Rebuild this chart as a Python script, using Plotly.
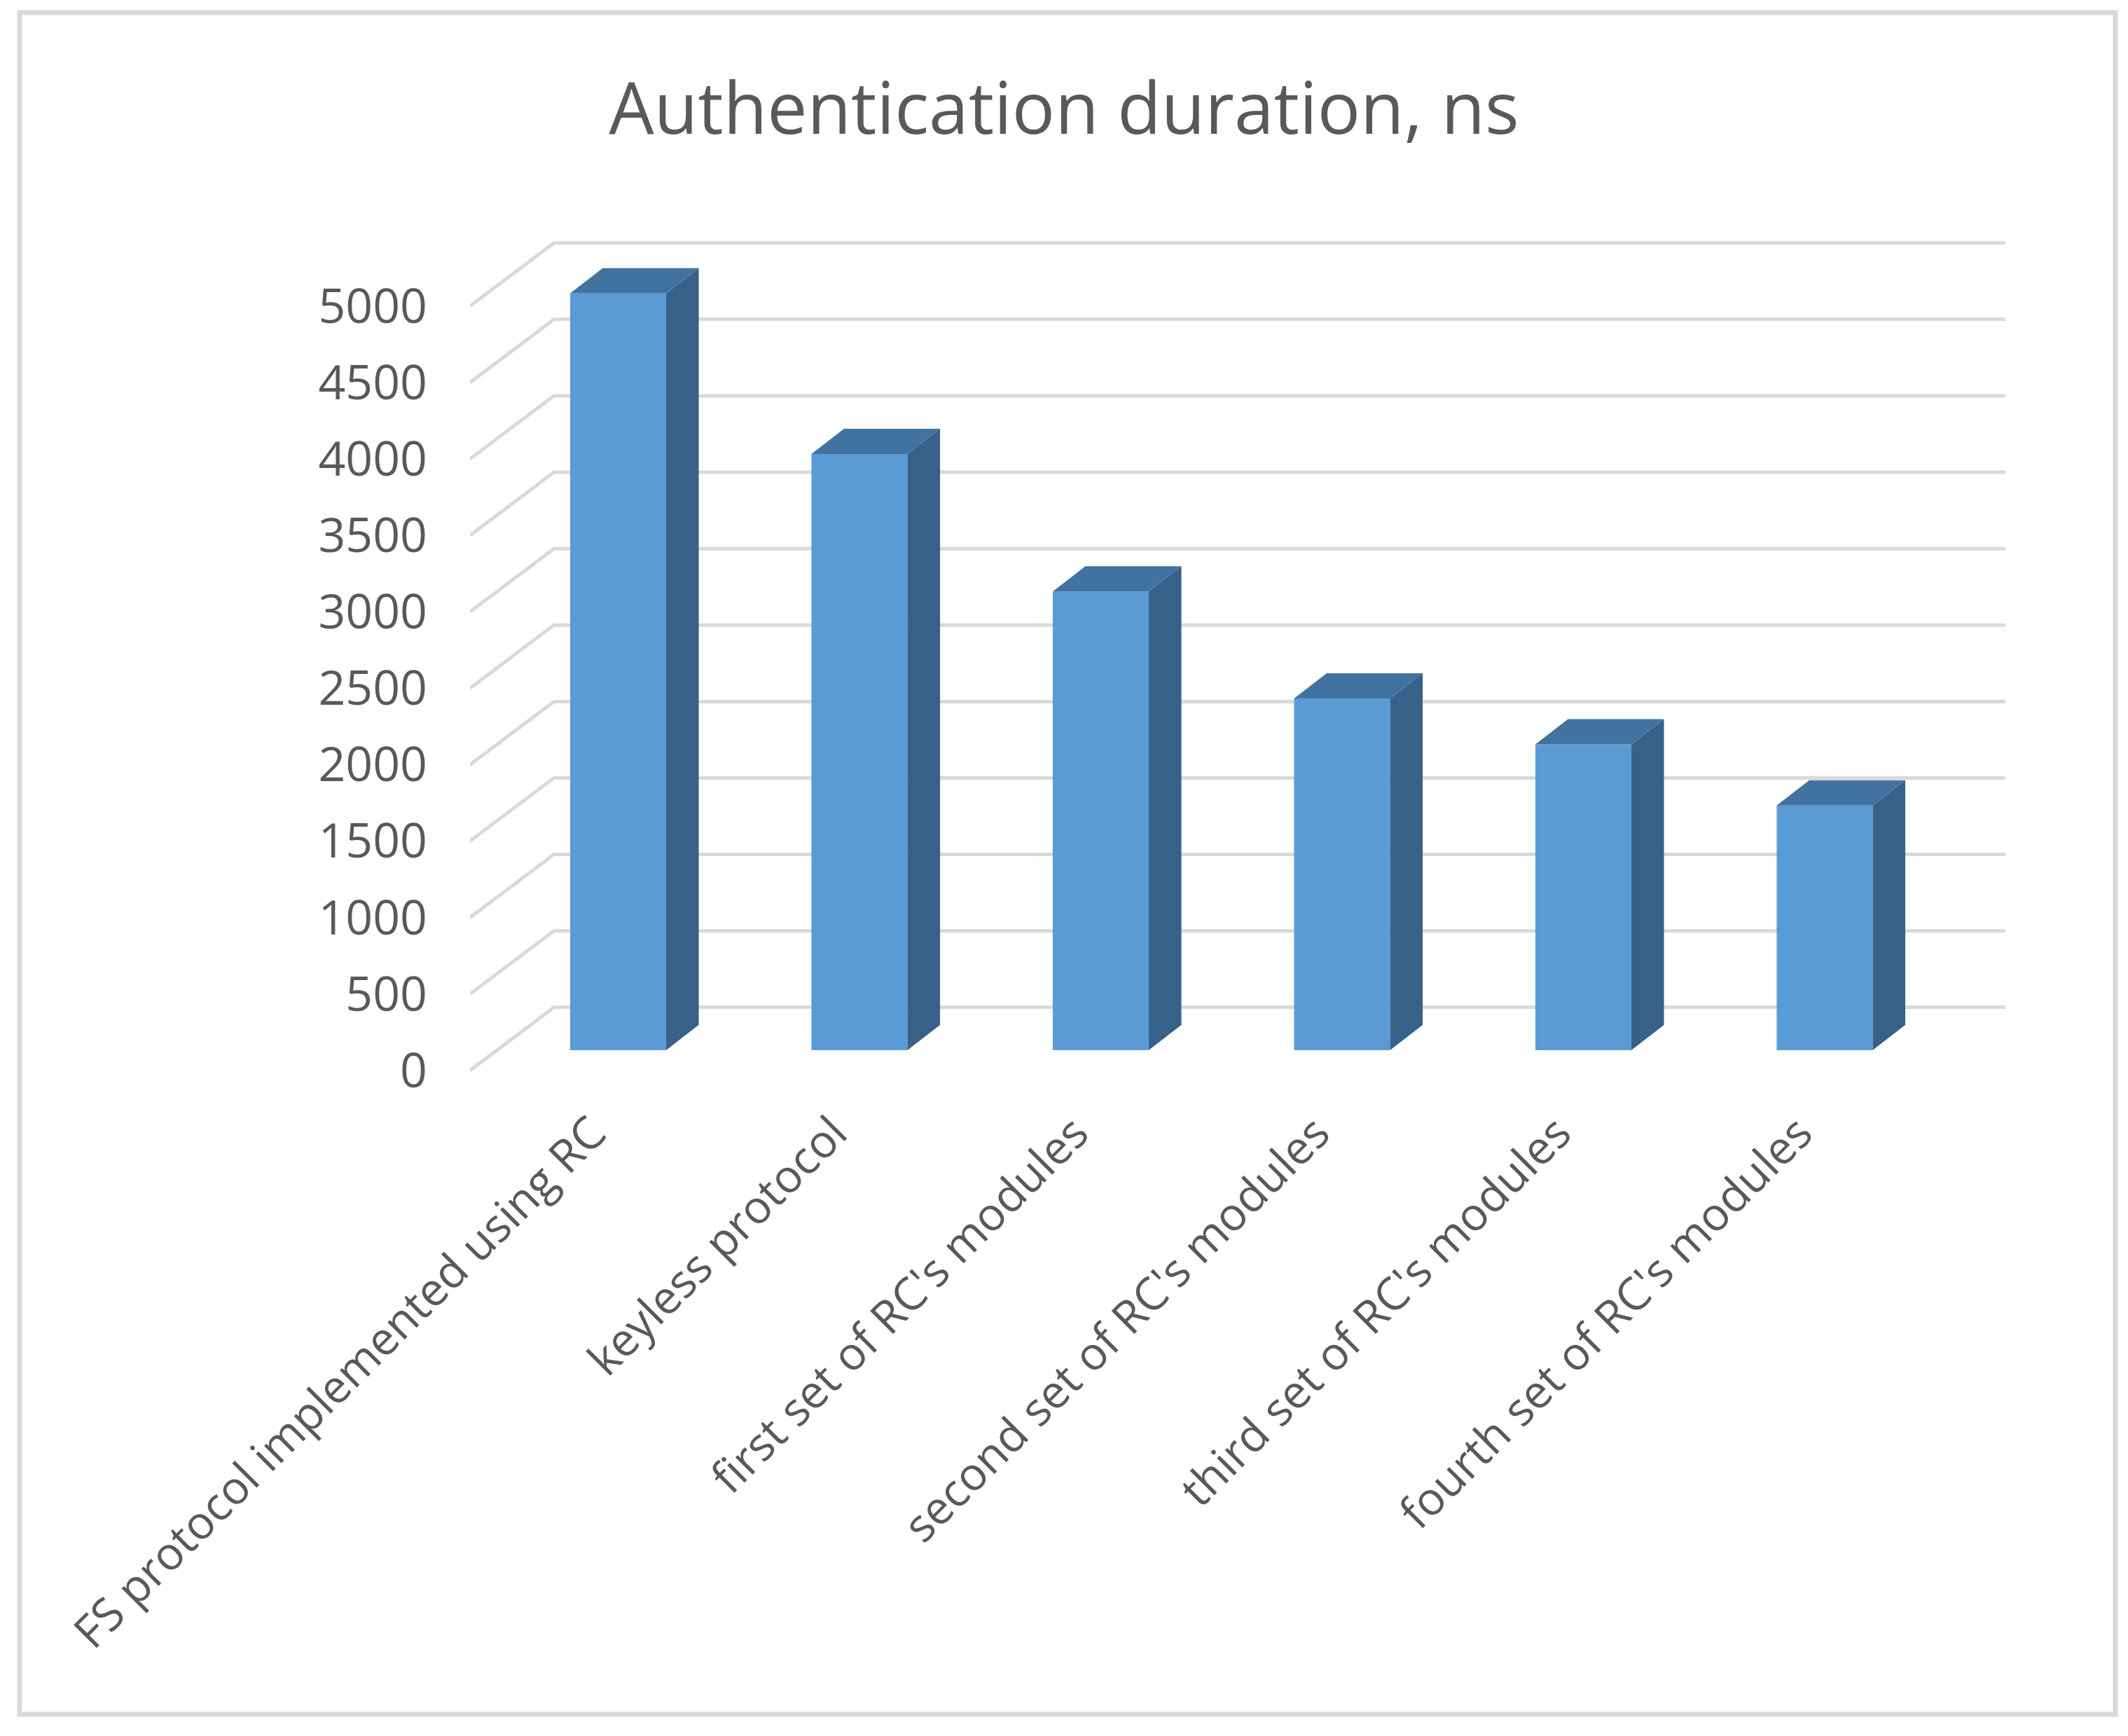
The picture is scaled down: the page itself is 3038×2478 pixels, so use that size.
import plotly.graph_objects as go

W, H = 3038, 2478

categories = [
    "FS protocol implemented using RC",
    "keyless protocol",
    "first set of RC's modules",
    "second set of RC's modules",
    "third set of RC's modules",
    "fourth set of RC's modules",
]
durations = [4950, 3900, 3000, 2300, 2000, 1600]
y_ticks = [0, 500, 1000, 1500, 2000, 2500, 3000, 3500, 4000, 4500, 5000]

GREY_TEXT = "#595959"
GREY_LINE = "#d9d9d9"
FRONT, SIDE, TOP = "#5b9bd5", "#38618a", "#4273a0"

# fake 3d: depth of the bars and of the floor, in axis units
BAR_W = 0.398
BAR_DX, BAR_DY = 0.135, 165
FLOOR_FRONT = -133   # where the tick labels sit
FLOOR_BACK = 280     # where the back wall grid sits
X_FRONT, X_BACK, X_END = -0.614, -0.266, 5.749
LABEL_SHIFT = -0.107 # labels end left of the bar centre
Y_RANGE = [-280, 5311]

fig = go.Figure()

# grid: short diagonal on the side wall, then across the back wall
for v in y_ticks:
    fig.add_trace(go.Scatter(
        x=[X_FRONT, X_BACK, X_END],
        y=[v + FLOOR_FRONT, v + FLOOR_BACK, v + FLOOR_BACK],
        mode="lines",
        line=dict(color=GREY_LINE, width=5),
        hoverinfo="skip",
        cliponaxis=False,
    ))

# bars go on an overlaid y axis so the grid stays behind them
fig.add_trace(go.Bar(
    x=list(range(len(categories))),
    y=durations,
    width=BAR_W,
    yaxis="y2",
    marker=dict(color=FRONT, line=dict(width=0)),
))

# side and top faces of each bar
side_x, side_y, top_x, top_y = [], [], [], []
for i, v in enumerate(durations):
    l, r = i - BAR_W / 2, i + BAR_W / 2
    side_x += [r, r + BAR_DX, r + BAR_DX, r, r, None]
    side_y += [0, BAR_DY, v + BAR_DY, v, 0, None]
    top_x += [l, l + BAR_DX, r + BAR_DX, r, l, None]
    top_y += [v, v + BAR_DY, v + BAR_DY, v, v, None]

for xs, ys, col in [(side_x, side_y, SIDE), (top_x, top_y, TOP)]:
    fig.add_trace(go.Scatter(
        x=xs, y=ys, yaxis="y2", mode="lines", fill="toself", fillcolor=col,
        line=dict(width=0, color=col), hoverinfo="skip", cliponaxis=False,
    ))

fig.update_layout(
    width=W,
    height=H,
    template="none",
    showlegend=False,
    paper_bgcolor="white",
    plot_bgcolor="white",
    margin=dict(l=0, r=0, t=0, b=0),
    font=dict(family="Open Sans", color=GREY_TEXT),
    title=dict(
        text="Authentication duration, ns",
        x=0.5, xanchor="center",
        y=1 - 155 / H, yanchor="middle",
        font=dict(size=102, color=GREY_TEXT),
    ),
    xaxis=dict(
        domain=[671 / W, 2863 / W],
        range=[X_FRONT, X_END],
        tickvals=[i + LABEL_SHIFT for i in range(len(categories))],
        ticktext=categories,
        tickangle=-45,
        tickfont=dict(size=65),
        showgrid=False,
        zeroline=False,
        showline=False,
        ticks="",
        ticklabelstandoff=5,
    ),
    yaxis=dict(
        domain=[1 - 1560 / H, 1 - 340 / H],
        range=Y_RANGE,
        tickvals=[v + FLOOR_FRONT for v in y_ticks],
        ticktext=[str(v) for v in y_ticks],
        tickfont=dict(size=68),
        showgrid=False,
        zeroline=False,
        showline=False,
        ticks="",
        ticklabelstandoff=60,
    ),
    yaxis2=dict(
        overlaying="y",
        range=Y_RANGE,
        visible=False,
    ),
    shapes=[dict(
        type="rect", xref="paper", yref="paper",
        x0=28 / W, x1=3020 / W, y0=1 - 2447 / H, y1=1 - 18 / H,
        line=dict(color=GREY_LINE, width=7),
    )],
)

fig.write_html(
    "out.html",
    config={"displayModeBar": False},
    post_script="document.body.style.margin='0';",
)
